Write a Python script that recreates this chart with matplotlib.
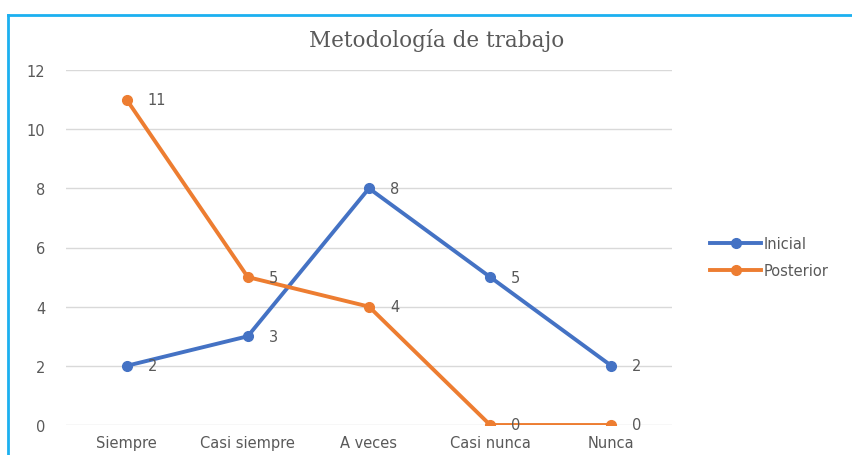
import matplotlib
matplotlib.use("Agg")
import matplotlib.pyplot as plt
from matplotlib.lines import Line2D

categories = ["Siempre", "Casi siempre", "A veces", "Casi nunca", "Nunca"]
inicial = [2, 3, 8, 5, 2]
posterior = [11, 5, 4, 0, 0]
y_ticks = [0, 2, 4, 6, 8, 10, 12]

BLUE = "#4472C4"
ORANGE = "#ED7D31"
TEXT = "#595959"
GRID = "#D9D9D9"

plt.rcParams["font.family"] = ["DejaVu Sans"]

W, H = 853, 456
fig = plt.figure(figsize=(W / 100, H / 100), dpi=100)
ax = fig.add_axes([66 / W, 1 - 426 / H, (672 - 66) / W, (426 - 71) / H])

x = list(range(len(categories)))
series = [("Inicial", inicial, BLUE), ("Posterior", posterior, ORANGE)]
for name, vals, col in series:
    ax.plot(x, vals, color=col, lw=2.8, marker="o", ms=7,
            solid_capstyle="round", label=name, zorder=3)
    for xi, v in zip(x, vals):
        ax.annotate(str(v), (xi, v), xytext=(15, 0), textcoords="offset points",
                    ha="left", va="center", fontsize=10.5, color=TEXT, zorder=4)

ax.set_xlim(-0.5, len(categories) - 0.5)
ax.set_ylim(0, 12)
ax.set_yticks(y_ticks)
ax.set_xticks(x)
ax.set_xticklabels(categories)
ax.tick_params(axis="both", length=0, labelsize=10.5, labelcolor=TEXT)
ax.tick_params(axis="y", pad=15)
ax.tick_params(axis="x", pad=7)
ax.yaxis.grid(True, color=GRID, lw=1)
ax.set_axisbelow(True)
for s in ax.spines.values():
    s.set_visible(False)

fig.text(437 / W, 1 - 41 / H, "Metodología de trabajo", ha="center", va="center",
         fontsize=15.5, color=TEXT, family="DejaVu Serif")

handles = [Line2D([], [], color=c, lw=2.8, marker="o", ms=7) for _, _, c in series]
fig.legend(handles, [n for n, _, _ in series], loc="center left",
           bbox_to_anchor=(697 / W, 1 - 258 / H), frameon=False, fontsize=10.5,
           labelcolor=TEXT, handlelength=3.5, handletextpad=0.2, labelspacing=0.85)

# frame accent along the top and left edges
fig.add_artist(Line2D([8 / W, 1], [1 - 16 / H, 1 - 16 / H], color="#1CB0F0", lw=2,
                      transform=fig.transFigure))
fig.add_artist(Line2D([8 / W, 8 / W], [0, 1 - 16 / H], color="#1CB0F0", lw=2,
                      transform=fig.transFigure))

fig.savefig("out.png", dpi=100)
